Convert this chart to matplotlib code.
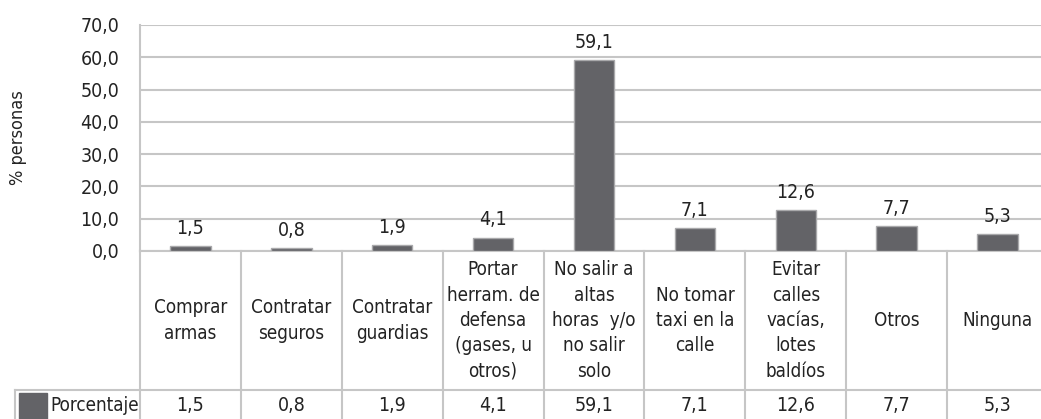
import matplotlib
matplotlib.use("Agg")
import matplotlib.pyplot as plt
import matplotlib.transforms as mtransforms

plt.rcParams['font.family'] = ['DejaVu Sans']
plt.rcParams['font.stretch'] = 'condensed'

categorias = [
    "Comprar\narmas",
    "Contratar\nseguros",
    "Contratar\nguardias",
    "Portar\nherram. de\ndefensa\n(gases, u\notros)",
    "No salir a\naltas\nhoras  y/o\nno salir\nsolo",
    "No tomar\ntaxi en la\ncalle",
    "Evitar\ncalles\nvacías,\nlotes\nbaldíos",
    "Otros",
    "Ninguna",
]
porcentaje = [1.5, 0.8, 1.9, 4.1, 59.1, 7.1, 12.6, 7.7, 5.3]
serie = "Porcentaje"
yticks = [0, 10, 20, 30, 40, 50, 60, 70]

W, H = 1041, 419
fig = plt.figure(figsize=(W / 100, H / 100), dpi=100)

# plot area in pixels (the last column runs a bit past the image edge)
x0, x1 = 140, 1048
ytop, ybot = 25, 251
ax = fig.add_axes([x0 / W, (H - ybot) / H, (x1 - x0) / W, (ybot - ytop) / H])

txt = '#232323'
grid = '#c6c6c6'
barc = '#636367'
fs = 14
fs_tab = 13.5

x = list(range(len(porcentaje)))
ax.bar(x, porcentaje, width=0.4, color=barc, edgecolor='#a9a9ab', linewidth=1, zorder=3)
for xi, v in zip(x, porcentaje):
    ax.annotate(f"{v:.1f}".replace('.', ','), (xi, v), xytext=(0, 6),
                textcoords='offset points', ha='center', va='bottom',
                fontsize=fs, color=txt)

ax.set_xlim(-0.5, len(porcentaje) - 0.5)
ax.set_ylim(0, 70)
ax.set_yticks(yticks)
ax.set_yticklabels([f"{t:.1f}".replace('.', ',') for t in yticks], fontsize=fs, color=txt)
ax.tick_params(axis='y', length=0, pad=15)
ax.set_xticks([])
ax.yaxis.grid(True, color=grid, linewidth=1.5, zorder=0)
for s in ['top', 'right', 'bottom']:
    ax.spines[s].set_visible(False)
ax.spines['left'].set_color(grid)
ax.spines['left'].set_linewidth(1.5)

fy = lambda py: (H - py) / H
fig.text(18 / W, fy(138), "% personas", rotation=90, ha='center', va='center',
         fontsize=13, color=txt)

# data table under the plot, built with lines and text
trans = mtransforms.blended_transform_factory(ax.transData, fig.transFigure)
row_y = 390
for i in range(len(porcentaje) + 1):
    ax.plot([i - 0.5, i - 0.5], [fy(ybot), fy(H + 2)], transform=trans,
            color=grid, lw=1.5, clip_on=False)
ax.plot([-0.5, len(porcentaje) - 0.5], [fy(ybot), fy(ybot)], transform=trans,
        color=grid, lw=1.5, clip_on=False)
fig.add_artist(plt.Line2D([15 / W, 1.0], [fy(row_y), fy(row_y)], color=grid, lw=1.5))
fig.add_artist(plt.Line2D([15 / W, 15 / W], [fy(row_y), 0], color=grid, lw=1.5))

for xi, (c, v) in enumerate(zip(categorias, porcentaje)):
    ax.text(xi, fy((ybot + row_y) / 2), c, transform=trans, ha='center', va='center',
            fontsize=fs_tab, color=txt, linespacing=1.42, clip_on=False)
    ax.text(xi, fy(405), f"{v:.1f}".replace('.', ','), transform=trans, ha='center',
            va='center', fontsize=fs, color=txt, clip_on=False)

fig.add_artist(plt.Rectangle((19 / W, 0), 28 / W, fy(393), color=barc,
                             transform=fig.transFigure))
fig.text(50 / W, fy(405), serie, ha='left', va='center', fontsize=fs_tab, color=txt)

fig.savefig("out.png", dpi=100)
